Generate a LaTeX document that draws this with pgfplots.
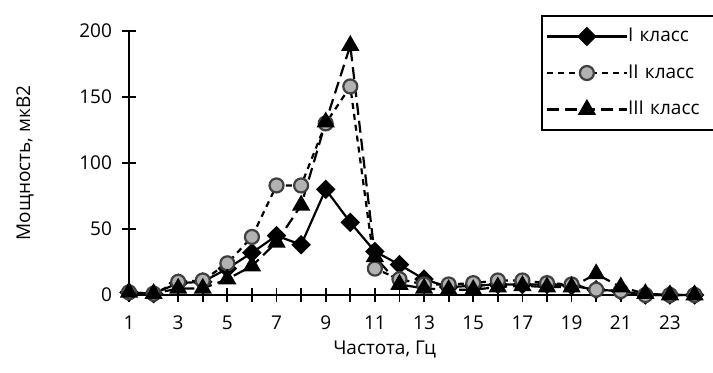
\documentclass[border=0pt]{standalone}
\usepackage{fontspec}
\setmainfont{Open Sans}
\usepackage{pgfplots}
\pgfplotsset{compat=1.18}
\begin{document}
\begin{tikzpicture}
\begin{axis}[
  scale only axis,
  width=284pt, height=132pt,
  xmin=1, xmax=24.1, ymin=0, ymax=200,
  axis lines=left,
  axis line style={-, line width=1pt},
  every tick/.style={black, line width=0.9pt},
  tick align=center,
  major tick length=7pt, minor tick length=7pt,
  xtick={1,3,...,23}, minor xtick={2,4,...,24},
  ytick={0,50,...,200},
  font=\fontsize{9.5}{11}\selectfont,
  /pgf/number format/assume math mode=true,
  yticklabel style={xshift=-1.5pt},
  xticklabel style={yshift=-3.5pt},
  xlabel={Частота, Гц},
  ylabel={Мощность, мкВ2},
  xlabel style={at={(axis description cs:0.45,-0.208)}, anchor=center},
  ylabel style={at={(axis description cs:-0.183,0.5)}, anchor=center},
  clip=false,
  legend cell align=left,
  legend style={at={(axis description cs:0.725,1.06)}, anchor=north west,
    draw=black, line width=1pt, font=\fontsize{9.5}{11}\selectfont,
    row sep=6pt, inner xsep=2pt, inner ysep=4pt,
    nodes={text width=50pt, inner xsep=0pt}},
  legend image code/.code={\draw[mark repeat=2,mark phase=2] plot coordinates {(0pt,0pt) (20pt,0pt) (40pt,0pt)};},
]
\addplot[black, line width=1.1pt, mark=square*, mark size=2.9pt, mark options={rotate=45, solid}]
coordinates {(1,2) (2,1) (3,9) (4,10) (5,20) (6,32) (7,45) (8,38) (9,80) (10,55) (11,33) (12,23) (13,12) (14,6) (15,7) (16,8) (17,8) (18,8) (19,7) (20,4) (21,3) (22,0) (23,0) (24,0)};
\addlegendentry{I класс}
\addplot[black, line width=1.1pt, dash pattern=on 3pt off 2.5pt, mark=*, mark size=3.5pt, mark options={solid, fill=gray!60, draw=gray!50!black}]
coordinates {(1,2) (2,1) (3,10) (4,11) (5,24) (6,44) (7,83) (8,83) (9,130) (10,158) (11,20) (12,12) (13,8) (14,8) (15,9) (16,11) (17,11) (18,9) (19,8) (20,4) (21,3) (22,0) (23,0) (24,0)};
\addlegendentry{II класс}
\addplot[black, line width=1.1pt, dash pattern=on 6pt off 3pt, mark=triangle*, mark size=4.2pt, mark options={solid}]
coordinates {(1,2) (2,1) (3,5) (4,5) (5,12) (6,22) (7,40) (8,68) (9,131) (10,189) (11,29) (12,8) (13,5) (14,4) (15,4) (16,6) (17,7) (18,6) (19,6) (20,16) (21,6) (22,1) (23,0) (24,0)};
\addlegendentry{III класс}
\end{axis}
\pgfresetboundingbox
\path (current axis.south west) ++(-64.5pt,147.5pt) coordinate (tl);
\path (current axis.south west) ++(292pt,-38.5pt) coordinate (br);
\useasboundingbox (tl) rectangle (br);
\end{tikzpicture}
\end{document}
